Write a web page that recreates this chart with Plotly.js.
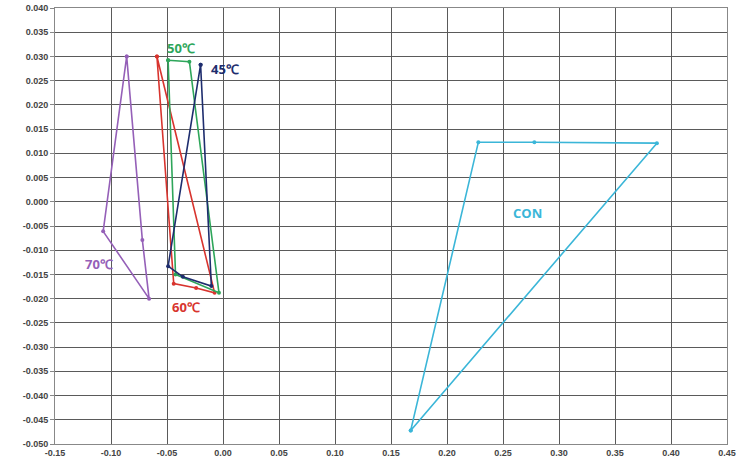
<!DOCTYPE html>
<html>
<head>
<meta charset="utf-8">
<script src="https://cdn.plot.ly/plotly-3.0.1.min.js"></script>
<style>html,body{margin:0;padding:0;background:#fff;}#chart{width:736px;height:464px;}</style>
</head>
<body>
<div id="chart"></div>
<script>
// Series (closed polygons)
const series70x = [-0.086, -0.107, -0.066, -0.072, -0.086];
const series70y = [0.030, -0.0061, -0.0200, -0.0079, 0.030];

const series60x = [-0.059, -0.044, -0.024, -0.0075, -0.059];
const series60y = [0.030, -0.0169, -0.0178, -0.0188, 0.030];

const series50x = [-0.049, -0.030, -0.0036, -0.0424, -0.049];
const series50y = [0.0292, 0.0289, -0.0188, -0.0150, 0.0292];

const series45x = [-0.020, -0.0104, -0.0358, -0.049, -0.020];
const series45y = [0.0283, -0.0174, -0.0155, -0.0133, 0.0283];

const seriesCONx = [0.1676, 0.228, 0.278, 0.3874, 0.1676];
const seriesCONy = [-0.0472, 0.0123, 0.0123, 0.0121, -0.0472];

const labelText = ['70℃', '60℃', '50℃', '45℃', 'CON'];
const labelX = [-0.1105, -0.0328, -0.0373, 0.0015, 0.2716];
const labelY = [-0.0128, -0.0218, 0.0318, 0.0275, -0.0024];
const colors = ['#9560b8', '#d8342e', '#2ea65a', '#1e2d6e', '#3bb6d8'];

const xTicks = [-0.15, -0.10, -0.05, 0.00, 0.05, 0.10, 0.15, 0.20, 0.25, 0.30, 0.35, 0.40, 0.45];
const yTicks = [0.040, 0.035, 0.030, 0.025, 0.020, 0.015, 0.010, 0.005, 0.000, -0.005, -0.010, -0.015, -0.020, -0.025, -0.030, -0.035, -0.040, -0.045, -0.050];

const xs = [series70x, series60x, series50x, series45x, seriesCONx];
const ys = [series70y, series60y, series50y, series45y, seriesCONy];

const traces = xs.map((x, i) => ({
  x: x, y: ys[i], type: 'scatter', mode: 'lines+markers',
  line: {color: colors[i], width: 1.6},
  marker: {color: colors[i], size: 4},
  showlegend: false, hoverinfo: 'skip'
}));

const annotations = labelText.map((t, i) => ({
  x: labelX[i], y: labelY[i], xref: 'x', yref: 'y', text: t, showarrow: false,
  font: {family: 'Open Sans, Liberation Sans, sans-serif', size: 13, color: colors[i], weight: 'bold'}
}));

const layout = {
  width: 736, height: 464,
  margin: {l: 55, r: 9, t: 8, b: 20},
  paper_bgcolor: '#fff', plot_bgcolor: '#fff',
  showlegend: false,
  xaxis: {
    range: [-0.15, 0.45], tickmode: 'array', tickvals: xTicks,
    ticktext: xTicks.map(v => v.toFixed(2)),
    ticklabeloverflow: 'allow',
    showgrid: true, gridcolor: '#5a5a5a', gridwidth: 1,
    zeroline: false, showline: true, linecolor: '#888', mirror: true,
    ticks: '', tickfont: {family: 'Liberation Sans, Arial, sans-serif', size: 9, color: '#444', weight: 'bold'}
  },
  yaxis: {
    range: [-0.05, 0.04], tickmode: 'array', tickvals: yTicks,
    ticktext: yTicks.map(v => v.toFixed(3)),
    showgrid: true, gridcolor: '#5a5a5a', gridwidth: 1,
    zeroline: false, showline: true, linecolor: '#888', mirror: true,
    ticks: 'outside', ticklen: 4, tickcolor: '#888',
    tickfont: {family: 'Liberation Sans, Arial, sans-serif', size: 9, color: '#444', weight: 'bold'}
  },
  annotations: annotations
};

Plotly.newPlot('chart', traces, layout, {displayModeBar: false, staticPlot: true});
</script>
</body>
</html>
